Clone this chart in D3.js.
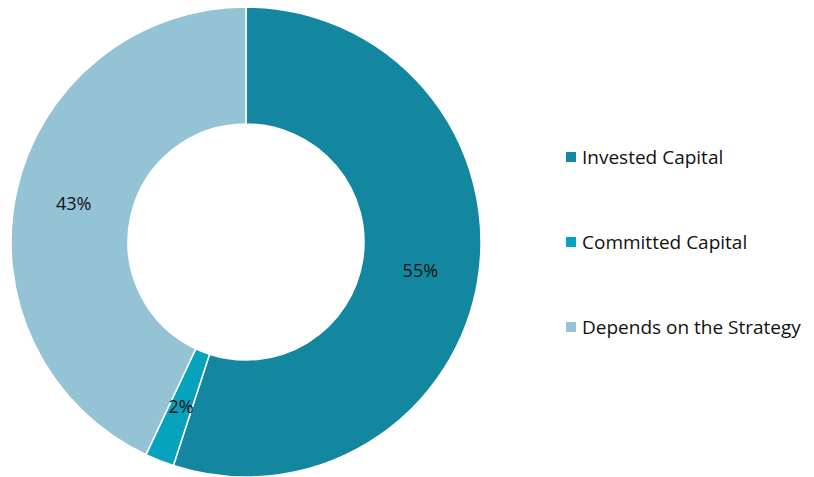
<!DOCTYPE html>
<html>
<head>
<meta charset="utf-8">
<script src="https://cdn.jsdelivr.net/npm/d3@7"></script>
<style>
  html, body { margin: 0; padding: 0; background: #ffffff; }
  svg { display: block; }
</style>
</head>
<body>
<svg id="chart" width="814" height="477"></svg>
<script>
// Capital allocation shares (percent)
const categories = ["Invested Capital", "Committed Capital", "Depends on the Strategy"];
const values = [55, 2, 43];
const colors = ["#13879f", "#07a2be", "#94c3d6"];

const svg = d3.select("#chart");
const cx = 246, cy = 242;
const outerR = 235, innerR = 118;
const fontFamily = "'Open Sans', 'Noto Sans', sans-serif";

const pie = d3.pie().sort(null).value(d => d.value);
const arcs = pie(categories.map((c, i) => ({ name: c, value: values[i] })));

const arc = d3.arc().innerRadius(innerR).outerRadius(outerR);
const midR = (innerR + outerR) / 2;
const labelArc = d3.arc().innerRadius(midR).outerRadius(midR);

const g = svg.append("g").attr("transform", `translate(${cx},${cy})`);

g.selectAll("path.slice")
  .data(arcs)
  .join("path")
  .attr("class", "slice")
  .attr("d", arc)
  .attr("fill", (d, i) => colors[i])
  .attr("stroke", "#ffffff")
  .attr("stroke-width", 1.5);

g.selectAll("text.pct")
  .data(arcs)
  .join("text")
  .attr("class", "pct")
  .attr("transform", d => `translate(${labelArc.centroid(d)})`)
  .attr("text-anchor", "middle")
  .attr("dominant-baseline", "central")
  .attr("font-family", fontFamily)
  .attr("font-size", 18)
  .attr("fill", "#111111")
  .text(d => d.data.value + "%");

// Legend
const legendY = d3.scalePoint().domain(categories).range([157, 327]);
const items = svg.append("g")
  .selectAll("g.item")
  .data(categories)
  .join("g")
  .attr("class", "item")
  .attr("transform", d => `translate(566,${legendY(d)})`);

items.append("rect")
  .attr("x", 0)
  .attr("y", -5)
  .attr("width", 10)
  .attr("height", 10)
  .attr("fill", (d, i) => colors[i]);

items.append("text")
  .attr("x", 16)
  .attr("y", 0)
  .attr("dominant-baseline", "central")
  .attr("font-family", fontFamily)
  .attr("font-size", 19)
  .attr("fill", "#111111")
  .text(d => d);
</script>
</body>
</html>
